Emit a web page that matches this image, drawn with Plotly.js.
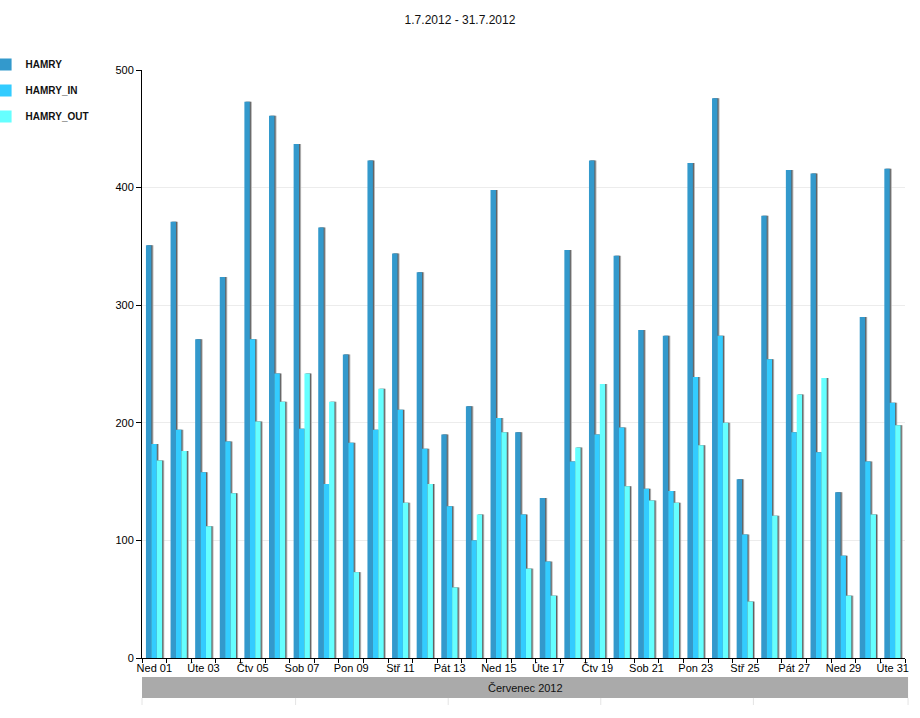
<!DOCTYPE html>
<html>
<head>
<meta charset="utf-8">
<script src="https://cdn.plot.ly/plotly-3.0.1.min.js"></script>
<style>html,body{margin:0;padding:0;background:#fff;}#chart{width:920px;height:718px;}</style>
</head>
<body>
<div id="chart"></div>
<script>
const days = ["Ned 01","Pon 02","Úte 03","Stř 04","Čtv 05","Pát 06","Sob 07","Ned 08","Pon 09","Úte 10",
  "Stř 11","Čtv 12","Pát 13","Sob 14","Ned 15","Pon 16","Úte 17","Stř 18","Čtv 19","Pát 20",
  "Sob 21","Ned 22","Pon 23","Úte 24","Stř 25","Čtv 26","Pát 27","Sob 28","Ned 29","Pon 30","Úte 31"];
const hamry = [351,371,271,324,473,461,437,366,258,423,344,328,190,214,398,192,136,347,423,342,279,274,421,476,152,376,415,412,141,290,416];
const hamryIn = [182,194,158,184,271,242,195,148,183,194,211,178,129,100,204,122,82,167,190,196,144,142,239,274,105,254,192,175,87,167,217];
const hamryOut = [168,176,112,140,201,218,242,218,73,229,132,148,60,122,192,76,53,179,233,146,134,132,181,200,48,121,224,238,53,122,198];
const seriesNames = ["HAMRY","HAMRY_IN","HAMRY_OUT"];
const seriesColors = ["#3399CC","#33CCFF","#66FFFF"];
const title = "1.7.2012 - 31.7.2012";
const monthLabel = "Červenec 2012";

const tickText = days.map((d,i)=> i%2===0 ? d : "");
const values = [hamry, hamryIn, hamryOut];
const offsets = [-0.34, -0.12, 0.10];
const w = 0.22;
const traces = [];
values.forEach((v,k)=>{
  traces.push({type:'bar', x:days, y:v, width:w, offset:offsets[k]+0.085,
    marker:{color:'rgba(175,175,175,0.9)'}, showlegend:false, hoverinfo:'skip', legendgroup:'g'+k});
  traces.push({type:'bar', x:days, y:v, width:w, offset:offsets[k]+0.045,
    marker:{color:'rgba(90,90,90,0.9)'}, showlegend:false, hoverinfo:'skip', legendgroup:'g'+k});
  traces.push({type:'bar', x:days, y:v, width:w, offset:offsets[k], name:seriesNames[k],
    marker:{color:seriesColors[k]}, legendgroup:'g'+k});
});

const weekLines = [0, 0.2013, 0.4013, 0.6013, 0.8013, 1.004].map(x=>({type:'line', xref:'paper', yref:'paper',
  x0:x, x1:x, y0:-0.068, y1:-0.08, line:{color:'#e4e4e4', width:1}}));

const layout = {
  width:920, height:718,
  paper_bgcolor:'#fff', plot_bgcolor:'#fff',
  font:{family:'Arial, Liberation Sans, sans-serif', size:11, color:'#000'},
  title:{text:title, x:0.5, xanchor:'center', y:1-20/718, yanchor:'middle', font:{size:12, color:'#111'}},
  margin:{l:142, r:15, t:70, b:60, autoexpand:false},
  barmode:'overlay',
  showlegend:true,
  legend:{xref:'paper', yref:'container', x:-0.205, y:1-50/718, xanchor:'left', yanchor:'top',
    font:{size:10, color:'#111', weight:'bold'}, traceorder:'grouped', tracegroupgap:7, bgcolor:'rgba(0,0,0,0)'},
  xaxis:{type:'category', tickvals:days, ticktext:tickText, tickson:'boundaries', ticks:'outside', ticklen:4,
    tickcolor:'#000', showline:true, linecolor:'#000', linewidth:1, showgrid:false, tickangle:0,
    range:[-0.5, 30.5], tickfont:{size:11, color:'#000'}},
  yaxis:{range:[0,500], tickvals:[0,100,200,300,400,500], ticks:'outside', ticklen:5, tickcolor:'#000',
    showline:true, linecolor:'#000', linewidth:1, showgrid:true, gridcolor:'#ececec', zeroline:false,
    tickfont:{size:11, color:'#000'}},
  shapes:[{type:'rect', xref:'paper', yref:'paper', x0:0, x1:1.004, y0:-0.0323, y1:-0.068,
    fillcolor:'#aaaaaa', line:{width:0}}].concat(weekLines),
  annotations:[{text:monthLabel, xref:'paper', yref:'paper', x:0.502, y:-0.0502, xanchor:'center', yanchor:'middle',
    showarrow:false, font:{size:11, color:'#111'}}]
};
Plotly.newPlot('chart', traces, layout, {displayModeBar:false, staticPlot:true});
</script>
</body>
</html>
